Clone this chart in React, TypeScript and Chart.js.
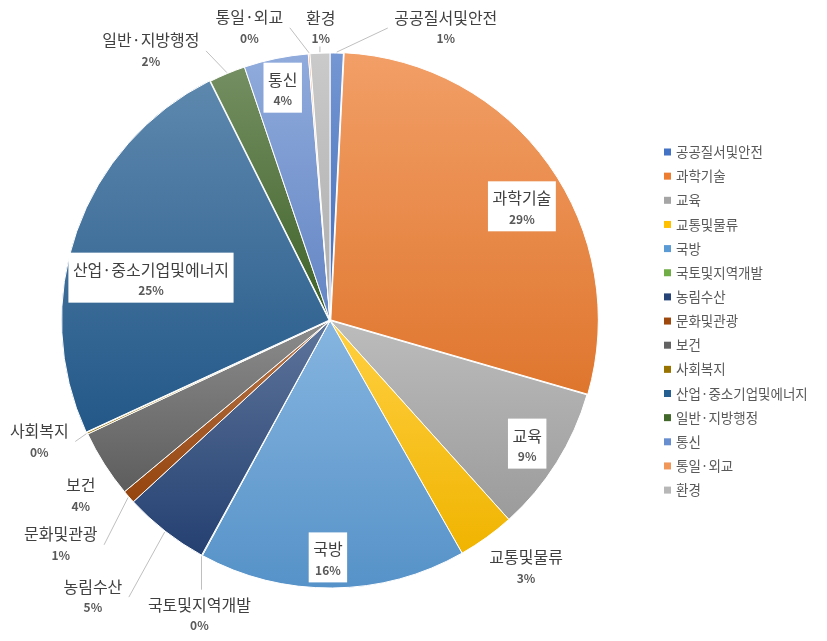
import React, { useEffect, useRef } from "react";
import { Chart, registerables } from "chart.js";

Chart.register(...registerables);

const categories = [
  "공공질서및안전",
  "과학기술",
  "교육",
  "교통및물류",
  "국방",
  "국토및지역개발",
  "농림수산",
  "문화및관광",
  "보건",
  "사회복지",
  "산업·중소기업및에너지",
  "일반·지방행정",
  "통신",
  "통일·외교",
  "환경",
];
const shares = [0.8, 28.8, 8.9, 3.45, 16.2, 0.05, 5.2, 0.8, 4.1, 0.1, 24.6, 2.2, 3.9, 0.1, 1.2];
const sliceColors = [
  "#4472C4", "#ED7D31", "#A5A5A5", "#FFC000", "#5B9BD5",
  "#70AD47", "#264478", "#9E480E", "#636363", "#997300",
  "#255E91", "#43682B", "#698ED0", "#F1975A", "#B7B7B7",
];
const explodedOffsets = [0, 4, 0, 0, 0, 0, 0, 0, 0, 0, 4, 0, 0, 0, 0];

// label layout (polar, relative to pie centre): radius factor, angle (deg clockwise from top)
const labelRadius = [1.176, 0.83, 0.874, 1.18, 0.895, 1.205, 1.362, 1.31, 1.139, 1.177, 0.686, 1.21, 0.879, 1.135, 1.094];
const labelAngle = [21.6, 59.8, 122.5, 141.6, 180.5, 203.9, 220.6, 230.2, 234.9, 247.4, 282.7, 326.4, 348.4, 344.6, 358.2];
const labelBoxed = [false, true, true, false, true, false, false, false, false, false, true, false, true, false, false];
const labelLeader = [true, false, false, false, false, true, true, true, false, true, false, true, false, true, true];

const FONT = '"Noto Sans CJK KR", "Noto Sans", sans-serif';

function hexToRgb(h: string) {
  const n = parseInt(h.slice(1), 16);
  return [(n >> 16) & 255, (n >> 8) & 255, n & 255];
}
function mix(h: string, target: number[], t: number) {
  const c = hexToRgb(h);
  const r = c.map((v, k) => Math.round(v + (target[k] - v) * t));
  return `rgb(${r[0]},${r[1]},${r[2]})`;
}

function sliceGradient(ctx: any) {
  const chart = ctx.chart;
  const i = ctx.dataIndex;
  const ca = chart.chartArea;
  if (i === undefined || !ca) return sliceColors[i ?? 0];
  const total = shares.reduce((a, b) => a + b, 0);
  let cum = 0;
  for (let k = 0; k < i; k++) cum += shares[k];
  const s = -Math.PI / 2 + (cum / total) * Math.PI * 2;
  const e = s + (shares[i] / total) * Math.PI * 2;
  const mid = (s + e) / 2;
  let cy = (ca.top + ca.bottom) / 2;
  const R = (Math.min(ca.width, ca.height) - 5) / 2;
  cy += explodedOffsets[i] * Math.sin(mid);
  const ys = [cy, cy + R * Math.sin(s), cy + R * Math.sin(e)];
  if (s <= -Math.PI / 2 + 1e-6 || e >= (3 * Math.PI) / 2 - 1e-6) ys.push(cy - R);
  if (s <= Math.PI / 2 && e >= Math.PI / 2) ys.push(cy + R);
  const top = Math.min(...ys);
  const bottom = Math.max(...ys);
  if (!isFinite(top) || bottom - top < 1) return sliceColors[i];
  const g = chart.ctx.createLinearGradient(0, top, 0, bottom);
  g.addColorStop(0, mix(sliceColors[i], [255, 255, 255], 0.26));
  g.addColorStop(1, mix(sliceColors[i], [0, 0, 0], 0.06));
  return g;
}

const labelPlugin = {
  id: "pieLabels",
  afterDatasetsDraw(chart: any) {
    const meta = chart.getDatasetMeta(0);
    const c = chart.ctx;
    const total = shares.reduce((a, b) => a + b, 0);
    const nameFont = `16px ${FONT}`;
    const pctFont = `bold 12px ${FONT}`;
    c.save();
    c.textAlign = "center";
    c.textBaseline = "middle";
    meta.data.forEach((arc: any, i: number) => {
      const { x, y, startAngle, endAngle, outerRadius } = arc.getProps(
        ["x", "y", "startAngle", "endAngle", "outerRadius"],
        true
      );
      const a = ((labelAngle[i] - 90) * Math.PI) / 180;
      const lx = x + labelRadius[i] * outerRadius * Math.cos(a);
      const ly = y + labelRadius[i] * outerRadius * Math.sin(a);
      const name = categories[i];
      const pct = Math.round((shares[i] / total) * 100) + "%";
      c.font = nameFont;
      const w1 = c.measureText(name).width;
      c.font = pctFont;
      const w2 = c.measureText(pct).width;
      const w = Math.max(w1, w2);
      const half = 10.5;
      const bx0 = lx - w / 2 - 4.5;
      const bx1 = lx + w / 2 + 4.5;
      const by0 = ly - half - 17;
      const by1 = ly + half + 12;
      if (labelBoxed[i]) {
        c.fillStyle = "#FFFFFF";
        c.fillRect(bx0, by0, bx1 - bx0, by1 - by0);
      }
      if (labelLeader[i]) {
        const mid = (startAngle + endAngle) / 2;
        const ex = x + (outerRadius + 1) * Math.cos(mid);
        const ey = y + (outerRadius + 1) * Math.sin(mid);
        let px: number, py: number;
        if (ex < bx0 || ex > bx1) {
          px = ex < bx0 ? bx0 - 2 : bx1 + 2;
          py = ly;
        } else {
          px = lx;
          py = ey < by0 ? by0 + 2 : by1 - 4;
          px = ex;
        }
        c.strokeStyle = "#BFBFBF";
        c.lineWidth = 1;
        c.beginPath();
        c.moveTo(ex, ey);
        c.lineTo(px, py);
        c.stroke();
      }
      c.fillStyle = "#404040";
      c.font = nameFont;
      c.fillText(name, lx, ly - half);
      c.fillStyle = "#595959";
      c.font = pctFont;
      c.fillText(pct, lx, ly + half);
    });
    c.restore();
  },
  afterDraw(chart: any) {
    const c = chart.ctx;
    c.save();
    c.font = `13.5px ${FONT}`;
    c.textAlign = "left";
    c.textBaseline = "middle";
    const x0 = 664;
    const y0 = 152;
    const step = 24.15;
    categories.forEach((name, i) => {
      const yy = y0 + i * step;
      c.fillStyle = sliceColors[i];
      c.fillRect(x0, yy - 3.5, 7, 7);
      c.fillStyle = "#595959";
      c.fillText(name, x0 + 12, yy);
    });
    c.restore();
  },
};

export default function App() {
  const ref = useRef<HTMLCanvasElement>(null);
  useEffect(() => {
    document.body.style.margin = "0";
    const canvas = ref.current;
    if (!canvas) return;
    const chart = new Chart(canvas, {
      type: "pie",
      data: {
        labels: categories,
        datasets: [
          {
            data: shares,
            backgroundColor: sliceGradient as any,
            borderColor: "#FFFFFF",
            borderWidth: 1,
            offset: explodedOffsets,
            hoverOffset: 0,
          },
        ],
      },
      options: {
        responsive: false,
        animation: false,
        events: [],
        layout: { padding: { left: 60, right: 227, top: 50, bottom: 50 } },
        plugins: {
          legend: { display: false },
          tooltip: { enabled: false },
        },
      },
      plugins: [labelPlugin],
    });
    return () => chart.destroy();
  }, []);
  return (
    <div style={{ width: 827, height: 641, background: "#FFFFFF" }}>
      <canvas ref={ref} width={827} height={641} style={{ display: "block" }} />
    </div>
  );
}
